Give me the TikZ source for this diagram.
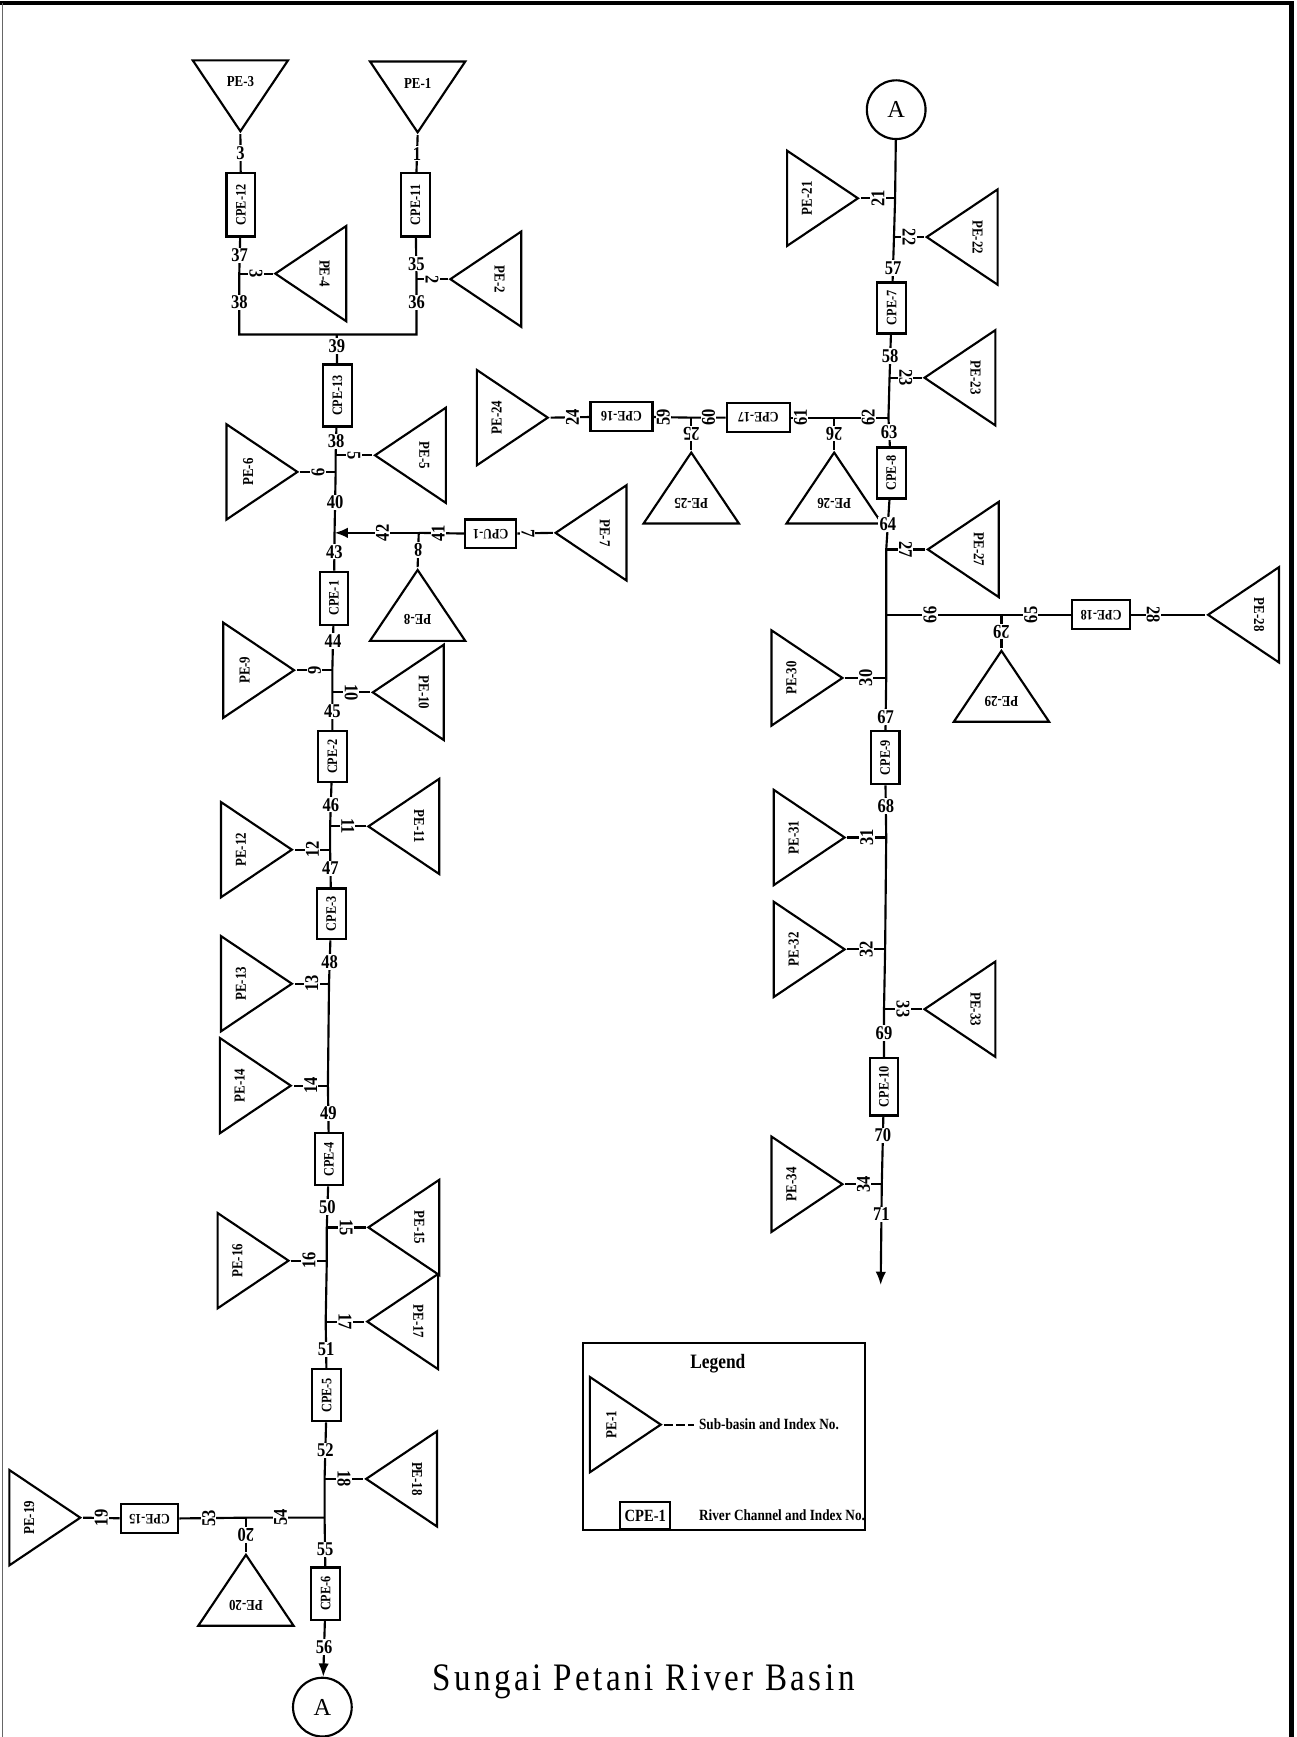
\documentclass[tikz,border=0pt]{standalone}
\usepackage{fontspec}
\usepackage{tikz}
\usetikzlibrary{arrows.meta,shapes.geometric}
\newfontfamily\lblfont[FakeStretch=0.85]{Liberation Serif}
\newfontfamily\plainfont{Liberation Serif}
\newfontfamily\titlefont[FakeStretch=0.85,LetterSpace=9]{Liberation Serif}

\begin{document}
\begin{tikzpicture}[x=0.02cm,y=-0.02cm,
    basin/.style={
        draw,
        line width=1.1pt,
        isosceles triangle,
        isosceles triangle stretches,
        shape border rotate=270,
        minimum width=1.72cm,
        minimum height=1.28cm,
        inner xsep=0pt,
        inner ysep=3.6pt,
        anchor=apex,
        rotate=#1,
        font=\lblfont\bfseries\fontsize{7.8}{8.5}\selectfont
    },
    chan/.style={
        draw,
        line width=1.1pt,
        fill=white,
        minimum width=0.96cm,
        minimum height=0.52cm,
        inner sep=1pt,
        rotate=#1,
        font=\lblfont\bfseries\fontsize{7.4}{8}\selectfont
    },
    chan/.default=90,
    num/.style={
        fill=white,
        inner sep=0.6pt,
        rotate=#1,
        font=\lblfont\bfseries\fontsize{10}{10}\selectfont
    },
    num/.default=0,
    reach/.style={
        line width=1.1pt,
        line join=miter
    },
    sea/.style={
        draw,
        circle,
        line width=1.1pt,
        minimum size=1.06cm,
        inner sep=0pt,
        font=\plainfont\fontsize{12.5}{12.5}\selectfont
    }
]

\useasboundingbox (0,0) rectangle (1170,1568);

\draw[line width=2.2pt] (0,3) -- (1168,3);
\draw[line width=2.6pt] (1166,2) -- (1166,1568);
\draw[black!60, line width=0.5pt] (2,3) -- (2,1568);

\foreach \nm/\x/\y/\r/\w/\t in {
    cpe12/217.5/185/90/1.14cm/CPE-12,
    cpe11/375/185/90/1.14cm/CPE-11,
    cpe13/304.5/357/90/1.12cm/CPE-13,
    cpe1/301.5/540/90/0.96cm/CPE-1,
    cpe2/300/683/90/0.92cm/CPE-2,
    cpe3/299/825/90/0.92cm/CPE-3,
    cpe4/297/1046.5/90/0.94cm/CPE-4,
    cpe5/295/1259.5/90/0.94cm/CPE-5,
    cpe6/294/1438.5/90/0.94cm/CPE-6,
    cpe7/805/278/90/0.92cm/CPE-7,
    cpe8/804.5/427/90/0.92cm/CPE-8,
    cpe9/799/684/90/0.96cm/CPE-9,
    cpe10/798/981/90/1.04cm/CPE-10,
    cpe16/561/376/180/1.12cm/CPE-16,
    cpe17/684.5/377/180/1.14cm/CPE-17,
    cpu1/443/482/180/0.92cm/CPU-1,
    cpe15/135/1371/180/1.04cm/CPE-15,
    cpe18/994/555/180/1.04cm/CPE-18}{
    \node[chan=\r, minimum width=\w] (\nm) at (\x,\y) {\t};
}

\foreach \nm/\x/\y/\r/\t in {
    pe3/217/121/0/PE-3,
    pe1/377/122/0/PE-1,
    pe4/246/247/-90/PE-4,
    pe2/404/252/-90/PE-2,
    pe5/336/411/-90/PE-5,
    pe6/271/426/90/PE-6,
    pe7/499/481/-90/PE-7,
    pe8/377/512/180/PE-8,
    pe9/268/605/90/PE-9,
    pe10/334/625/-90/PE-10,
    pe11/330/746/-90/PE-11,
    pe12/266/767/90/PE-12,
    pe13/266/888/90/PE-13,
    pe14/265/980/90/PE-14,
    pe15/330/1108/-90/PE-15,
    pe16/263/1138/90/PE-16,
    pe17/329/1193/-90/PE-17,
    pe18/328/1335/-90/PE-18,
    pe19/75/1370/90/PE-19,
    pe20/222/1401/180/PE-20,
    pe21/777/179/90/PE-21,
    pe22/834/214/-90/PE-22,
    pe23/832/341/-90/PE-23,
    pe24/497/377/90/PE-24,
    pe25/624/406/180/PE-25,
    pe26/753/406/180/PE-26,
    pe27/835/496/-90/PE-27,
    pe28/1088/555/-90/PE-28,
    pe29/904/585/180/PE-29,
    pe30/763/612/90/PE-30,
    pe31/765/756/90/PE-31,
    pe32/765/857/90/PE-32,
    pe33/832/911/-90/PE-33,
    pe34/763/1069/90/PE-34}{
    \node[basin=\r] (\nm) at (\x,\y) {\t};
}

\coordinate (j4) at (216,247);
\coordinate (c1) at (216,302);
\coordinate (c2) at (376,302);
\coordinate (j2) at (376,252);
\coordinate (m39) at (304,302);
\coordinate (j5) at (303,411);
\coordinate (j6) at (303,426);
\coordinate (j7) at (302,481);
\coordinate (j8) at (378,481);
\coordinate (j9) at (300,605);
\coordinate (j10) at (300,625);
\coordinate (j11) at (298,746);
\coordinate (j12) at (298,767);
\coordinate (j13) at (297,888);
\coordinate (j14) at (296,980);
\coordinate (j15) at (295,1108);
\coordinate (j16) at (295,1138);
\coordinate (j17) at (294,1193);
\coordinate (j18) at (293,1335);
\coordinate (j54) at (293,1370);
\coordinate (j20) at (222,1370);
\coordinate (j21) at (808,179);
\coordinate (j22) at (807,214);
\coordinate (j23) at (803,341);
\coordinate (j62) at (802,377);
\coordinate (j26) at (753,377);
\coordinate (j25) at (624,377);
\coordinate (j27) at (800,496);
\coordinate (j66) at (800,555);
\coordinate (j29) at (904,555);
\coordinate (j30) at (800,612);
\coordinate (j31) at (800,756);
\coordinate (j32) at (799,857);
\coordinate (j33) at (798,911);
\coordinate (j34) at (796,1069);
\coordinate (out) at (795,1160);

\node[sea] (atop) at (809,99) {A};
\node[sea] (abot) at (291,1541) {A};

\draw[reach] (pe3.apex) -- node[num] (n3a) {3} (cpe12);
\draw[reach] (pe1.apex) -- node[num] (n1) {1} (cpe11);
\draw[reach]
(cpe12) -- node[num] (n37) {37} (j4)
-- node[num,pos=.47] (n38a) {38} (c1)
-- (c2)
-- node[num,pos=.58] (n36) {36} (j2)
-- node[num,pos=.37] (n35) {35} (cpe11);
\draw[reach] (j4) -- node[num=-90] (n3b) {3} (pe4.apex);
\draw[reach] (j2) -- node[num=-90] (n2) {2} (pe2.apex);

\draw[reach] (m39) -- node[num,pos=.4] (n39) {39} (cpe13);
\draw[reach]
(cpe13) -- node[num] (n38b) {38} (j5)
-- (j6)
-- node[num] (n40) {40} (j7)
-- node[num] (n43) {43} (cpe1);
\draw[reach] (j5) -- node[num=-90] (n5) {5} (pe5.apex);
\draw[reach] (j6) -- node[num=90] (n6) {6} (pe6.apex);

\draw[reach, -{Latex[length=2.4mm,width=1.9mm]}]
(j8) -- node[num=90,pos=.43] (n42) {42} (j7);
\draw[reach] (cpu1) -- node[num=90,pos=.57] (n41) {41} (j8);
\draw[reach] (pe7.apex) -- node[num=-90,pos=.7] (n7) {7} (cpu1);
\draw[reach] (j8) -- node[num=180] (n8) {8} (pe8.apex);

\draw[reach]
(cpe1) -- node[num,pos=.34] (n44) {44} (j9)
-- (j10)
-- node[num] (n45) {45} (cpe2);
\draw[reach] (j9) -- node[num=90] (n9) {9} (pe9.apex);
\draw[reach] (j10) -- node[num=-90] (n10) {10} (pe10.apex);

\draw[reach]
(cpe2) -- node[num] (n46) {46} (j11)
-- (j12)
-- node[num] (n47) {47} (cpe3);
\draw[reach] (j11) -- node[num=-90] (n11) {11} (pe11.apex);
\draw[reach] (j12) -- node[num=90] (n12) {12} (pe12.apex);

\draw[reach]
(cpe3) -- node[num] (n48) {48} (j13)
-- (j14)
-- node[num,pos=.6] (n49) {49} (cpe4);
\draw[reach] (j13) -- node[num=90] (n13) {13} (pe13.apex);
\draw[reach] (j14) -- node[num=90] (n14) {14} (pe14.apex);

\draw[reach]
(cpe4) -- node[num] (n50) {50} (j15)
-- (j16)
-- (j17)
-- node[num,pos=.6] (n51) {51} (cpe5);
\draw[reach] (j15) -- node[num=-90] (n15) {15} (pe15.apex);
\draw[reach] (j16) -- node[num=90] (n16) {16} (pe16.apex);
\draw[reach] (j17) -- node[num=-90] (n17) {17} (pe17.apex);

\draw[reach]
(cpe5) -- node[num] (n52) {52} (j18)
-- (j54)
-- node[num,pos=.65] (n55) {55} (cpe6);
\draw[reach] (j18) -- node[num=-90] (n18) {18} (pe18.apex);
\draw[reach]
(j54) -- node[num=90,pos=.56] (n54) {54} (j20)
-- node[num=90,pos=.56] (n53) {53} (cpe15);
\draw[reach] (cpe15) -- node[num=90] (n19) {19} (pe19.apex);
\draw[reach] (j20) -- node[num=180] (n20) {20} (pe20.apex);
\draw[reach, -{Latex[length=2.4mm,width=1.9mm]}]
(cpe6) -- node[num,pos=.47] (n56) {56} (abot);

\draw[reach]
(atop) -- (j21)
-- (j22)
-- node[num,pos=.7] (n57) {57} (cpe7);
\draw[reach] (j21) -- node[num=90] (n21) {21} (pe21.apex);
\draw[reach] (j22) -- node[num=-90] (n22) {22} (pe22.apex);
\draw[reach]
(cpe7) -- node[num] (n58) {58} (j23)
-- (j62)
-- node[num] (n63) {63} (cpe8);
\draw[reach] (j23) -- node[num=-90] (n23) {23} (pe23.apex);

\draw[reach]
(j62) -- node[num=90,pos=.37] (n62) {62} (j26)
-- node[num=90,pos=.78] (n61) {61} (cpe17);
\draw[reach]
(cpe17) -- node[num=90] (n60) {60} (j25)
-- node[num=90,pos=.74] (n59) {59} (cpe16);
\draw[reach] (cpe16) -- node[num=90,pos=.44] (n24) {24} (pe24.apex);
\draw[reach] (j25) -- node[num=180] (n25) {25} (pe25.apex);
\draw[reach] (j26) -- node[num=180] (n26) {26} (pe26.apex);

\draw[reach]
(cpe8) -- node[num] (n64) {64} (j27)
-- (j66)
-- (j30)
-- node[num,pos=.75] (n67) {67} (cpe9);
\draw[reach] (j27) -- node[num=-90] (n27) {27} (pe27.apex);
\draw[reach]
(j66) -- node[num=90,pos=.38] (n66) {66} (j29)
-- node[num=90,pos=.42] (n65) {65} (cpe18);
\draw[reach] (cpe18) -- node[num=-90,pos=.3] (n28) {28} (pe28.apex);
\draw[reach] (j29) -- node[num=180] (n29) {29} (pe29.apex);
\draw[reach] (j30) -- node[num=90] (n30) {30} (pe30.apex);

\draw[reach]
(cpe9) -- node[num,pos=.4] (n68) {68} (j31)
-- (j32)
-- (j33)
-- node[num] (n69) {69} (cpe10);
\draw[reach] (j31) -- node[num=90] (n31) {31} (pe31.apex);
\draw[reach] (j32) -- node[num=90] (n32) {32} (pe32.apex);
\draw[reach] (j33) -- node[num=-90] (n33) {33} (pe33.apex);
\draw[reach, -{Latex[length=2.4mm,width=1.9mm]}]
(cpe10) -- node[num,pos=.28] (n70) {70} (j34)
-- node[num,pos=.3] (n71) {71} (out);
\draw[reach] (j34) -- node[num=90] (n34) {34} (pe34.apex);

\draw[line width=0.9pt] (526,1212) rectangle (781,1381);
\node[font=\lblfont\bfseries\fontsize{10.5}{12}\selectfont] (legtitle) at (648,1231) {Legend};
\node[basin=90] (legpe) at (599,1286) {PE-1};
\node[anchor=west, inner sep=1pt, font=\lblfont\bfseries\fontsize{8}{9}\selectfont] (legsub) at (629,1286) {Sub-basin and Index No.};
\draw[line width=1.1pt, dash pattern=on 5pt off 1.5pt on 4.5pt off 1.7pt on 3pt off 20pt]
(legpe.apex) -- (legsub.west);
\node[chan=0, minimum width=0.9cm, minimum height=0.48cm, font=\lblfont\bfseries\fontsize{8.8}{10}\selectfont] (legch) at (582.5,1368) {CPE-1};
\node[anchor=west, inner sep=1pt, font=\lblfont\bfseries\fontsize{8}{9}\selectfont] (legriv) at (629,1368) {River Channel and Index No.};

\node[font=\titlefont\fontsize{20}{24}\selectfont] (title) at (581,1518) {Sungai Petani River Basin};
\end{tikzpicture}
\end{document}
